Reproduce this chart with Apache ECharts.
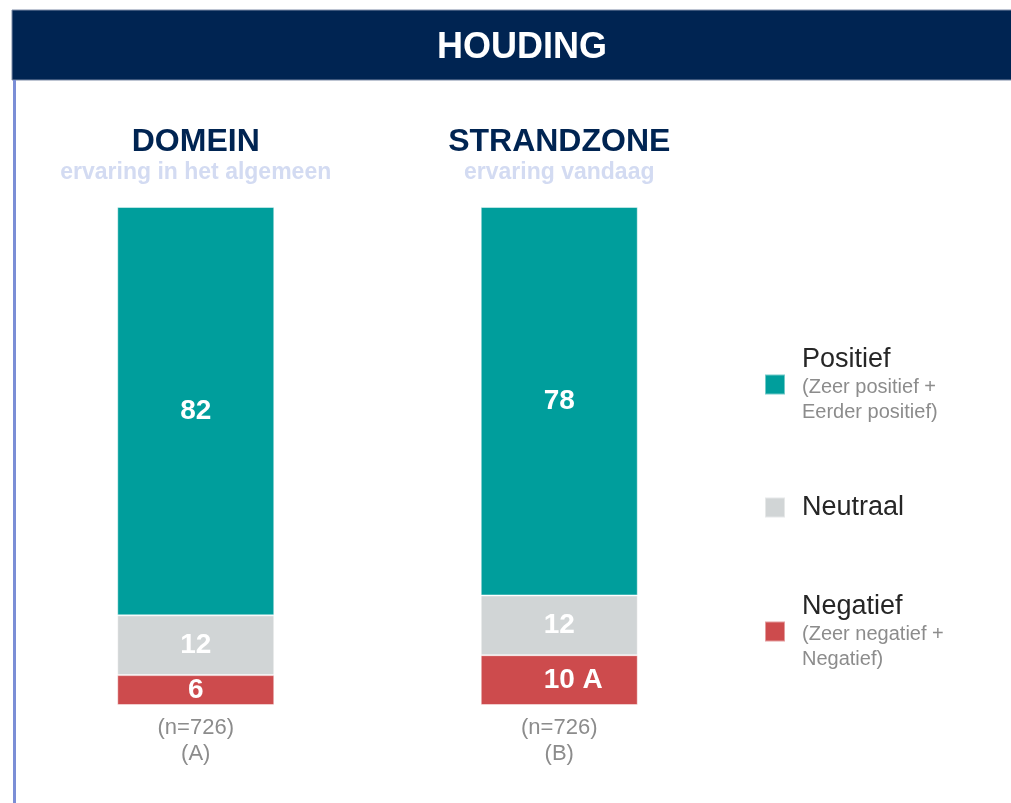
<!DOCTYPE html>
<html>
<head>
<meta charset="utf-8">
<script src="https://cdn.jsdelivr.net/npm/echarts@6/dist/echarts.min.js"></script>
<style>
  html, body { margin: 0; padding: 0; background: #fff; }
  #main { width: 1011px; height: 803px; }
</style>
</head>
<body>
<div id="main"></div>
<script>
const chartDom = document.getElementById("main");
const myChart = echarts.init(chartDom);

// data
const categories = ["DOMEIN", "STRANDZONE"];
const subtitles = ["ervaring in het algemeen", "ervaring vandaag"];
const sampleSizes = [726, 726];
const groupCodes = ["A", "B"];

const positief = [82, 78];
const neutraal = [12, 12];
const negatief = [6, 10];
const negatiefSig = ["", "A"];

const seriesNames = ["Positief", "Neutraal", "Negatief"];
const seriesNotes = ["(Zeer positief +\nEerder positief)", "", "(Zeer negatief +\nNegatief)"];
const seriesColors = ["#009E9C", "#D1D5D6", "#CD4B4D"];

const FONT = "'Liberation Sans', Arial, sans-serif";

const valueLabel = {
  show: true,
  position: "inside",
  color: "#fff",
  fontFamily: FONT,
  fontSize: 28,
  fontWeight: "bold",
  rich: {
    v: { color: "#fff", fontFamily: FONT, fontSize: 28, fontWeight: "bold" },
    h: { color: "transparent", fontFamily: FONT, fontSize: 28, fontWeight: "bold" }
  }
};

function barSeries(name, values, color, sig) {
  return {
    name: name,
    type: "bar",
    stack: "total",
    barWidth: 157,
    data: values,
    itemStyle: { color: color, borderColor: "rgba(255,255,255,0.45)", borderWidth: 1 },
    label: Object.assign({}, valueLabel, {
      formatter: function (p) {
        const s = sig ? sig[p.dataIndex] : "";
        // hidden copy on the left keeps the number centred in the bar
        if (s) return "{h| " + s + "}{v|" + p.value + "}{v| " + s + "}";
        return "{v|" + p.value + "}";
      }
    }),
    emphasis: { disabled: true }
  };
}

const option = {
  animation: false,
  backgroundColor: "#fff",
  graphic: [
    {
      type: "rect",
      shape: { x: 12, y: 10, width: 1000, height: 70 },
      style: { fill: "#002452", stroke: "#7d8aa6", lineWidth: 1 },
      silent: true
    },
    {
      type: "rect",
      shape: { x: 13, y: 80, width: 3, height: 730 },
      style: { fill: "#7B8ED6" },
      silent: true
    }
  ],
  title: {
    text: "HOUDING",
    left: 517,
    top: 25,
    textAlign: "center",
    textStyle: { color: "#fff", fontFamily: FONT, fontSize: 36, fontWeight: "bold" }
  },
  legend: {
    orient: "vertical",
    left: 759,
    top: 341,
    itemWidth: 20,
    itemHeight: 20,
    itemGap: 72,
    icon: "rect",
    selectedMode: false,
    data: seriesNames,
    formatter: function (name) {
      const note = seriesNotes[seriesNames.indexOf(name)];
      let txt = "{a|" + name + "}";
      if (note) note.split("\n").forEach(function (l) { txt += "\n{b|" + l + "}"; });
      return txt;
    },
    textStyle: {
      rich: {
        a: { fontFamily: FONT, fontSize: 27, color: "#262626", lineHeight: 30, padding: [0, 0, 0, 12] },
        b: { fontFamily: FONT, fontSize: 20, color: "#8C8C8C", lineHeight: 25, padding: [0, 0, 0, 12] }
      }
    }
  },
  grid: { left: 14, right: 270, top: 207, bottom: 98 },
  xAxis: [
    {
      type: "category",
      position: "bottom",
      data: categories,
      axisLine: { show: false },
      axisTick: { show: false },
      axisLabel: {
        interval: 0,
        margin: 10,
        formatter: function (v, i) {
          return "(n=" + sampleSizes[i] + ")\n(" + groupCodes[i] + ")";
        },
        fontFamily: FONT,
        fontSize: 22,
        lineHeight: 26,
        color: "#8C8C8C"
      }
    },
    {
      type: "category",
      position: "top",
      data: categories,
      axisLine: { show: false },
      axisTick: { show: false },
      axisLabel: {
        interval: 0,
        margin: 20,
        formatter: function (v, i) {
          return "{t|" + v + "}\n{s|" + subtitles[i] + "}";
        },
        rich: {
          t: { fontFamily: FONT, fontSize: 32, fontWeight: "bold", color: "#002452", lineHeight: 34 },
          s: { fontFamily: FONT, fontSize: 23, fontWeight: "bold", color: "#D3DBF2", lineHeight: 28 }
        }
      }
    }
  ],
  yAxis: { type: "value", min: 0, max: 100, show: false },
  series: [
    barSeries(seriesNames[2], negatief, seriesColors[2], negatiefSig),
    barSeries(seriesNames[1], neutraal, seriesColors[1]),
    barSeries(seriesNames[0], positief, seriesColors[0])
  ],
  color: [seriesColors[2], seriesColors[1], seriesColors[0]]
};

option && myChart.setOption(option);
</script>
</body>
</html>
